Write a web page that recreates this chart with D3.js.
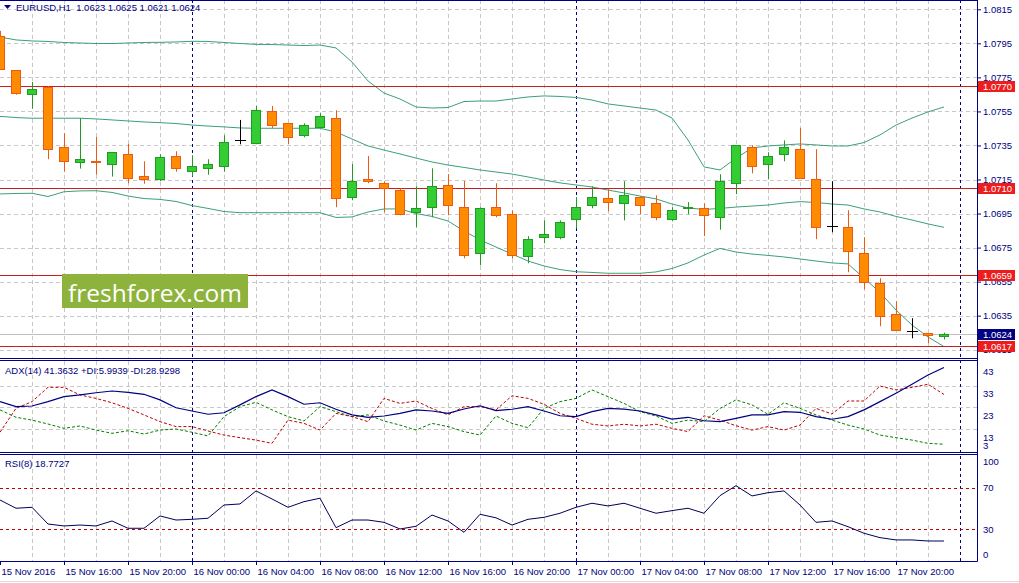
<!DOCTYPE html>
<html>
<head>
<meta charset="utf-8">
<script src="https://cdn.jsdelivr.net/npm/d3@7/dist/d3.min.js"></script>
<style>
  html, body { margin: 0; padding: 0; background: #fff; }
  svg { display: block; font-family: "Liberation Sans", Arial, sans-serif; }
</style>
</head>
<body>
<svg id="chart" width="1019" height="583"></svg>
<script>
// ---- data (EURUSD H1, 15 Nov 12:00 .. 17 Nov 23:00) ----
const timeLabels = ['15 Nov 2016', '15 Nov 16:00', '15 Nov 20:00', '16 Nov 00:00', '16 Nov 04:00',
  '16 Nov 08:00', '16 Nov 12:00', '16 Nov 16:00', '16 Nov 20:00', '17 Nov 00:00', '17 Nov 04:00',
  '17 Nov 08:00', '17 Nov 12:00', '17 Nov 16:00', '17 Nov 20:00'];

const open = [1.07993,1.07792,1.07648,1.07694,1.07339,1.07251,1.07257,1.07239,1.07298,1.07171,
  1.07151,1.07286,1.07198,1.07216,1.07228,1.07380,1.07366,1.07551,1.07480,1.07410,
  1.07457,1.07510,1.07046,1.07151,1.07128,1.07087,1.06957,1.06987,1.07116,1.06987,
  1.06717,1.06987,1.06946,1.06697,1.06811,1.06811,1.06917,1.06999,1.07040,1.07010,
  1.07046,1.07010,1.06917,1.06979,1.06981,1.06928,1.07128,1.07339,1.07239,1.07298,
  1.07328,1.07151,1.06875,1.06869,1.06717,1.06540,1.06358,1.06258,1.06247,1.0623];
const high = [1.08023,1.07793,1.07723,1.07699,1.07422,1.07510,1.07400,1.07312,1.07359,1.07257,
  1.07298,1.07316,1.07292,1.07269,1.07410,1.07500,1.07582,1.07582,1.07480,1.07480,
  1.07539,1.07557,1.07241,1.07288,1.07140,1.07098,1.07110,1.07216,1.07182,1.07141,
  1.06987,1.07128,1.06969,1.06817,1.06910,1.06910,1.07046,1.07110,1.07092,1.07140,
  1.07051,1.07057,1.06987,1.07017,1.07010,1.07181,1.07351,1.07351,1.07310,1.07380,
  1.07453,1.07328,1.07140,1.06969,1.06811,1.06570,1.06435,1.06335,1.06247,1.0625];
const low = [1.07793,1.07648,1.07566,1.07269,1.07196,1.07214,1.07178,1.07167,1.07128,1.07125,
  1.07140,1.07196,1.07167,1.07178,1.07196,1.07357,1.07357,1.07453,1.07357,1.07398,
  1.07453,1.06987,1.07028,1.07128,1.06957,1.06940,1.06869,1.06928,1.06940,1.06687,
  1.06646,1.06928,1.06685,1.06658,1.06775,1.06799,1.06863,1.06981,1.06963,1.06910,
  1.06946,1.06910,1.06905,1.06946,1.06817,1.06855,1.07064,1.07186,1.07151,1.07257,
  1.07157,1.06799,1.06840,1.06605,1.06505,1.06288,1.06264,1.06217,1.06188,1.0621];
const close = [1.07799,1.07657,1.07680,1.07328,1.07257,1.07269,1.07249,1.07310,1.07157,1.07155,
  1.07281,1.07216,1.07228,1.07241,1.07369,1.07380,1.07557,1.07468,1.07398,1.07468,
  1.07521,1.07040,1.07140,1.07140,1.07098,1.06946,1.06981,1.07110,1.06999,1.06705,
  1.06981,1.06940,1.06705,1.06799,1.06828,1.06899,1.06987,1.07046,1.07017,1.07057,
  1.06999,1.06928,1.06969,1.06987,1.06940,1.07140,1.07351,1.07228,1.07286,1.07339,
  1.07157,1.06869,1.06875,1.06728,1.06546,1.06346,1.06264,1.06258,1.06235,1.0624];

const bbUpper = [1.07987,1.07970,1.07964,1.07961,1.07955,1.07952,1.07949,1.07949,1.07952,1.07955,
  1.07956,1.07958,1.07962,1.07961,1.07955,1.07949,1.07944,1.07943,1.07940,1.07937,
  1.07940,1.07923,1.07840,1.07729,1.07658,1.07623,1.07576,1.07570,1.07573,1.07608,
  1.07611,1.07611,1.07623,1.07635,1.07641,1.07638,1.07632,1.07617,1.07594,1.07582,
  1.07570,1.07558,1.07511,1.07382,1.07224,1.07206,1.07276,1.07335,1.07347,1.07353,
  1.07359,1.07353,1.07347,1.07347,1.07367,1.07412,1.07470,1.07511,1.07547,1.07576];
const bbMiddle = [1.07521,1.07514,1.07510,1.07510,1.07510,1.07510,1.07506,1.07500,1.07494,1.07488,
  1.07484,1.07479,1.07470,1.07464,1.07459,1.07453,1.07451,1.07451,1.07451,1.07451,
  1.07451,1.07429,1.07388,1.07347,1.07323,1.07300,1.07276,1.07253,1.07235,1.07221,
  1.07206,1.07194,1.07182,1.07165,1.07147,1.07130,1.07118,1.07106,1.07088,1.07071,
  1.07053,1.07036,1.07006,1.06983,1.06974,1.06980,1.06988,1.06994,1.07000,1.07012,
  1.07020,1.07015,1.07006,1.07000,1.06977,1.06959,1.06933,1.06912,1.06889,1.06869];
const bbLower = [1.07065,1.07068,1.07069,1.07050,1.07078,1.07083,1.07084,1.07074,1.07053,1.07038,
  1.07033,1.07021,1.06997,1.06980,1.06962,1.06955,1.06955,1.06955,1.06955,1.06955,
  1.06955,1.06927,1.06930,1.06959,1.06977,1.06977,1.06950,1.06933,1.06906,1.06848,
  1.06795,1.06753,1.06712,1.06671,1.06642,1.06621,1.06608,1.06604,1.06599,1.06599,
  1.06599,1.06607,1.06627,1.06660,1.06706,1.06745,1.06724,1.06712,1.06704,1.06695,
  1.06683,1.06671,1.06660,1.06654,1.06571,1.06486,1.06383,1.06295,1.06225,1.06168];

const adx = [25.6,23.3,23.6,25.6,27.9,28.7,29.7,30.5,29.9,29.0,
  26.4,22.8,21.3,19.8,20.5,24.1,27.9,31.0,27.9,24.4,
  25.1,22.1,19.5,18.4,19.0,20.2,21.8,21.3,20.2,22.2,
  23.7,21.5,22.1,23.3,21.3,19.1,18.7,21.0,22.5,22.2,
  21.3,19.5,17.6,18.4,16.8,16.4,17.9,19.5,19.5,21.0,
  20.7,18.7,17.5,18.7,21.8,25.6,29.5,33.6,37.9,41.36];
const plusDI = [21.8,18.4,17.1,15.3,13.3,14.4,12.5,11.0,12.2,10.7,
  12.5,13.0,11.5,9.8,18.7,23.3,25.3,21.8,18.7,16.7,
  23.3,21.0,18.7,19.5,16.7,14.8,12.5,15.6,14.1,11.8,
  10.2,19.0,15.6,13.6,22.5,25.6,27.1,31.0,27.9,24.8,
  21.0,19.0,15.6,17.1,16.4,22.5,26.4,24.1,19.8,25.1,
  22.5,19.5,17.1,14.8,13.0,10.2,9.0,7.9,6.4,5.99];
const minusDI = [11.5,22.5,25.6,32.2,32.2,28.7,27.1,25.1,22.5,19.5,
  16.4,14.1,14.1,12.1,10.2,9.0,7.9,6.4,17.1,15.6,
  12.5,20.2,18.7,16.4,27.1,24.8,25.9,22.5,19.5,23.3,
  23.3,21.8,28.3,27.1,24.4,20.2,17.9,15.2,14.4,15.2,
  14.4,15.2,13.3,11.8,19.1,17.1,14.5,12.5,14.1,12.5,
  14.8,22.5,19.9,25.9,25.9,32.8,31.0,32.2,33.6,28.93];
const rsi = [58.1,50.2,51.1,35.1,33.2,34.1,33.2,38.0,31.0,31.0,
  42.8,38.9,39.6,40.6,53.3,54.3,66.8,59.1,51.1,56.5,
  59.8,31.6,38.9,38.9,36.7,30.3,32.9,43.7,38.0,27.1,
  44.4,41.0,34.1,39.6,41.5,45.4,51.1,55.0,52.4,55.0,
  50.2,45.4,47.9,50.2,45.4,62.3,71.8,62.0,65.1,66.8,
  53.3,36.7,38.0,32.5,26.2,22.0,19.8,19.8,18.8,18.77];

const priceTicks = [1.0815, 1.0795, 1.0775, 1.0755, 1.0735, 1.0715, 1.0695, 1.0675, 1.0655, 1.0635, 1.0615];
const levelLines = [1.0770, 1.0710, 1.0659, 1.0617];
const lastPrice = 1.0624;
const adxTicks = [43, 33, 23, 13, 3];
const rsiTicks = [100, 70, 30, 0];
const rsiLevels = [70, 30];
const daySplits = [12, 36, 60];   // bar index of 16, 17, 18 Nov 00:00

// ---- layout ----
const svg = d3.select('#chart');
const axisX = 977;
const mainP = { top: 0, bottom: 358 };
const adxP = { top: 361, bottom: 452 };
const rsiP = { top: 455, bottom: 561 };
const navy = '#000080';
const gridCol = '#c8c8c8';

const x = d3.scaleLinear().domain([0, 59]).range([0, 944]);
const y = d3.scaleLinear().domain([1.0615, 1.0815]).range([349.7, 9.3]);
const yAdx = d3.scaleLinear().domain([13, 33]).range([429, 385.6]);
const yRsi = d3.scaleLinear().domain([0, 100]).range([560.6, 456.3]);
const crisp = v => Math.round(v) + 0.5;

const defs = svg.append('defs');
[['clip-main', mainP], ['clip-adx', adxP], ['clip-rsi', rsiP]].forEach(([id, p]) => {
  defs.append('clipPath').attr('id', id)
    .append('rect').attr('x', 0).attr('y', p.top).attr('width', axisX).attr('height', p.bottom - p.top);
});

// ---- grid ----
const grid = svg.append('g').attr('class', 'grid');
const gridBars = d3.range(2, 60, 2).filter(i => !daySplits.includes(i));
[mainP, adxP, rsiP].forEach(p => {
  grid.selectAll(null).data(gridBars).enter().append('line')
    .attr('x1', d => crisp(x(d))).attr('x2', d => crisp(x(d)))
    .attr('y1', p.top).attr('y2', p.bottom)
    .attr('stroke', gridCol).attr('stroke-dasharray', '4,3');
});
grid.selectAll(null).data(priceTicks).enter().append('line')
  .attr('x1', 0).attr('x2', axisX)
  .attr('y1', d => crisp(y(d))).attr('y2', d => crisp(y(d)))
  .attr('stroke', gridCol).attr('stroke-dasharray', '4,3');
grid.selectAll(null).data(adxTicks.filter(v => yAdx(v) > adxP.top + 4 && yAdx(v) < adxP.bottom - 4)).enter().append('line')
  .attr('x1', 0).attr('x2', axisX)
  .attr('y1', d => crisp(yAdx(d))).attr('y2', d => crisp(yAdx(d)))
  .attr('stroke', gridCol).attr('stroke-dasharray', '4,3');
grid.selectAll(null).data(daySplits).enter().append('line')
  .attr('x1', d => crisp(x(d))).attr('x2', d => crisp(x(d)))
  .attr('y1', mainP.top).attr('y2', rsiP.bottom)
  .attr('stroke', navy).attr('stroke-dasharray', '3,3');

// ---- main panel ----
const mainG = svg.append('g').attr('clip-path', 'url(#clip-main)');

mainG.append('line')
  .attr('x1', 0).attr('x2', axisX)
  .attr('y1', crisp(y(lastPrice))).attr('y2', crisp(y(lastPrice)))
  .attr('stroke', '#c0c0c0');

const bandLine = d3.line().x((d, i) => x(i)).y(d => y(d));
[bbUpper, bbMiddle, bbLower].forEach(band => {
  mainG.append('path').datum(band)
    .attr('d', bandLine)
    .attr('fill', 'none').attr('stroke', '#3c9f78').attr('stroke-width', 1);
});

mainG.selectAll('.level').data(levelLines).enter().append('line')
  .attr('class', 'level')
  .attr('x1', 0).attr('x2', axisX)
  .attr('y1', d => crisp(y(d))).attr('y2', d => crisp(y(d)))
  .attr('stroke', '#c81e1e');

const bars = d3.range(open.length).map(i => ({ i, o: open[i], h: high[i], l: low[i], c: close[i] }));
const upFill = '#32cd32', upLine = '#239a23', dnFill = '#ff8c00', dnLine = '#ee5a12';
const barCol = d => d.o === d.c ? '#000' : (d.c > d.o ? upLine : dnLine);

const candles = mainG.selectAll('.candle').data(bars).enter().append('g').attr('class', 'candle');
candles.append('line')
  .attr('x1', d => crisp(x(d.i))).attr('x2', d => crisp(x(d.i)))
  .attr('y1', d => y(d.h)).attr('y2', d => y(d.l))
  .attr('stroke', barCol);
candles.filter(d => d.o !== d.c).append('rect')
  .attr('x', d => Math.round(x(d.i)) - 4.5)
  .attr('width', 9)
  .attr('y', d => crisp(y(Math.max(d.o, d.c))))
  .attr('height', d => Math.max(1, Math.round(Math.abs(y(d.o) - y(d.c)))))
  .attr('fill', d => d.c > d.o ? upFill : dnFill)
  .attr('stroke', barCol);
candles.filter(d => d.o === d.c).append('line')
  .attr('x1', d => Math.round(x(d.i)) - 5).attr('x2', d => Math.round(x(d.i)) + 6)
  .attr('y1', d => crisp(y(d.o))).attr('y2', d => crisp(y(d.o)))
  .attr('stroke', '#000');

// watermark
const wm = svg.append('g');
wm.append('rect').attr('x', 62).attr('y', 274).attr('width', 186).attr('height', 34).attr('fill', '#8db33c');
wm.append('text').attr('x', 155).attr('y', 292).attr('text-anchor', 'middle').attr('dominant-baseline', 'central')
  .attr('font-family', '"Open Sans", "Noto Sans", sans-serif').attr('font-size', 24.5).attr('fill', '#fff')
  .text('freshforex.com');

// ---- ADX panel ----
const adxG = svg.append('g').attr('clip-path', 'url(#clip-adx)');
const adxLine = d3.line().x((d, i) => x(i)).y(d => yAdx(d));
adxG.append('path').datum(plusDI).attr('d', adxLine)
  .attr('fill', 'none').attr('stroke', '#008000').attr('stroke-dasharray', '3,2');
adxG.append('path').datum(minusDI).attr('d', adxLine)
  .attr('fill', 'none').attr('stroke', '#c00000').attr('stroke-dasharray', '3,2');
adxG.append('path').datum(adx).attr('d', adxLine)
  .attr('fill', 'none').attr('stroke', navy).attr('stroke-width', 1.2);

// ---- RSI panel ----
const rsiG = svg.append('g').attr('clip-path', 'url(#clip-rsi)');
rsiG.selectAll(null).data(rsiLevels).enter().append('line')
  .attr('x1', 0).attr('x2', axisX)
  .attr('y1', d => crisp(yRsi(d))).attr('y2', d => crisp(yRsi(d)))
  .attr('stroke', '#c00000').attr('stroke-dasharray', '3,3');
rsiG.append('path').datum(rsi)
  .attr('d', d3.line().x((d, i) => x(i)).y(d => yRsi(d)))
  .attr('fill', 'none').attr('stroke', '#00005a');

// ---- frames ----
const frame = svg.append('g').attr('stroke', navy).attr('fill', 'none');
[0.5, 358.5, 360.5, 452.5, 454.5, 561.5].forEach(v => {
  frame.append('line').attr('x1', 0).attr('x2', axisX + 0.5).attr('y1', v).attr('y2', v);
});
frame.append('line').attr('x1', axisX + 0.5).attr('x2', axisX + 0.5).attr('y1', 0).attr('y2', rsiP.bottom + 0.5);
svg.append('line').attr('x1', 0).attr('x2', 1019).attr('y1', 581.5).attr('y2', 581.5).attr('stroke', '#dcdcdc');

// ---- axes ----
const styleAxis = g => {
  g.select('.domain').remove();
  g.selectAll('line').attr('stroke', navy);
  g.selectAll('text').attr('fill', navy).attr('font-size', 9.5)
    .attr('font-family', '"Liberation Sans", Arial, sans-serif');
};

svg.append('g').attr('transform', `translate(${axisX},0)`)
  .call(d3.axisRight(y).tickValues(priceTicks).tickSize(4).tickPadding(2).tickFormat(d3.format('.4f')))
  .call(styleAxis);

svg.append('g').attr('transform', `translate(${axisX},0)`)
  .call(d3.axisRight(yAdx).tickValues(adxTicks).tickSize(0).tickPadding(6).tickFormat(d3.format('d')))
  .call(styleAxis)
  .selectAll('text')
  .attr('y', d => Math.min(Math.max(yAdx(d) + 8, adxP.top + 7), adxP.bottom - 7) - yAdx(d));

svg.append('g').attr('transform', `translate(${axisX},0)`)
  .call(d3.axisRight(yRsi).tickValues(rsiTicks).tickSize(0).tickPadding(6).tickFormat(d3.format('d')))
  .call(styleAxis)
  .selectAll('text')
  .attr('y', d => Math.min(Math.max(yRsi(d), rsiP.top + 6), rsiP.bottom - 7) - yRsi(d));

svg.append('g').attr('transform', `translate(0,${rsiP.bottom})`)
  .call(d3.axisBottom(x).tickValues(d3.range(0, 60, 4)).tickSize(4).tickPadding(3)
    .tickFormat((d, i) => timeLabels[i]))
  .call(styleAxis)
  .selectAll('text').attr('text-anchor', 'start').attr('x', 1);

// price tags on the axis
const tags = svg.append('g');
const tagData = levelLines.map(v => ({ v, col: '#ee1c1c' })).concat([{ v: lastPrice, col: navy }]);
tags.selectAll('rect').data(tagData).enter().append('rect')
  .attr('x', axisX + 1).attr('width', 37)
  .attr('y', d => Math.round(y(d.v)) - 5).attr('height', 11)
  .attr('fill', d => d.col);
tags.selectAll('text').data(tagData).enter().append('text')
  .attr('x', axisX + 6).attr('y', d => y(d.v) + 0.5)
  .attr('dominant-baseline', 'central')
  .attr('font-size', 9.5).attr('fill', '#fff')
  .text(d => d3.format('.4f')(d.v));

// ---- titles ----
svg.append('path').attr('d', 'M4,5 L11,5 L7.5,9 Z').attr('fill', navy);
const title = (tx, ty, str) => svg.append('text')
  .attr('x', tx).attr('y', ty).attr('dominant-baseline', 'central')
  .attr('font-size', 9.5).attr('fill', navy).attr('xml:space', 'preserve').text(str);
title(16, 7.5, `EURUSD,H1  ${d3.format('.4f')(open[59])} ${d3.format('.4f')(high[59])} ${d3.format('.4f')(low[59])} ${d3.format('.4f')(close[59])}`);
title(5, 370.5, `ADX(14) 41.3632 +DI:5.9939 -DI:28.9298`);
title(5, 463.5, `RSI(8) 18.7727`);
</script>
</body>
</html>
